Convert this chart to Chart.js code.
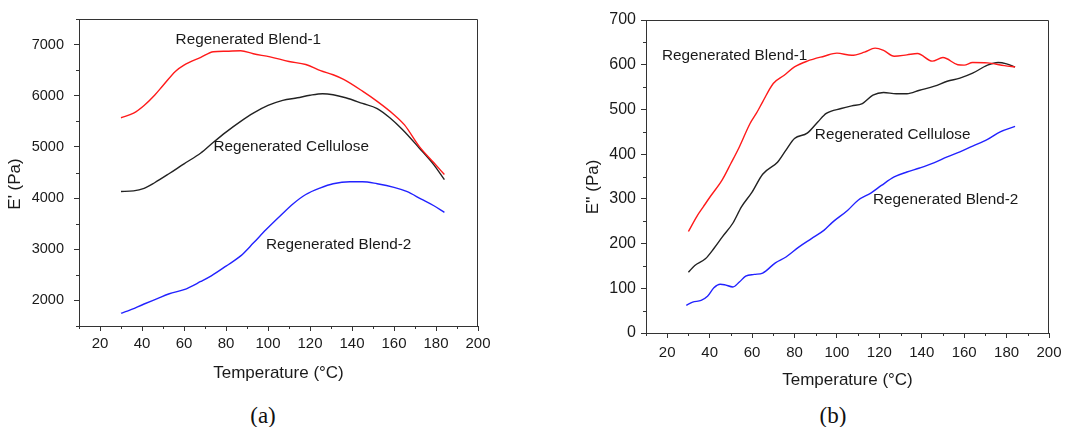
<!DOCTYPE html>
<html>
<head>
<meta charset="utf-8">
<script src="https://cdn.jsdelivr.net/npm/chart.js@4/dist/chart.umd.min.js"></script>
<style>
  html, body { margin:0; padding:0; background:#fff; }
  body { width:1084px; height:427px; position:relative; overflow:hidden; }
  canvas { position:absolute; top:0; }
  .cap { position:absolute; font-family:"Liberation Serif","Times New Roman",serif; font-size:23px; color:#111; transform:translate(-50%,-50%); }
</style>
</head>
<body>
<canvas id="ca" width="500" height="400" style="left:0px"></canvas>
<canvas id="cb" width="544" height="400" style="left:540px"></canvas>
<div class="cap" style="left:263px; top:416px;">(a)</div>
<div class="cap" style="left:833px; top:416px;">(b)</div>
<script>
// ---------- Panel (a): storage modulus E' ----------
const aBlend1T = [30,36,41,46,50,56,60,68,74,80,87,93,101,110,118,125,131,136,145,152,160,165,172,179,184];
const aBlend1V = [5570,5660,5810,6010,6200,6480,6600,6750,6860,6870,6880,6820,6760,6670,6610,6490,6410,6320,6090,5890,5630,5430,5010,4690,4460];
const aCellT = [30,36,41,46,53,60,68,74,80,87,93,100,107,114,120,126,131,137,145,152,158,164,172,179,184];
const aCellV = [4130,4140,4190,4300,4480,4670,4880,5090,5290,5500,5660,5810,5910,5960,6010,6040,6020,5960,5850,5750,5570,5340,4980,4650,4360];
const aBlend2T = [30,33,41,47,53,60,68,73,80,87,93,99,106,112,118,125,131,139,145,152,160,166,173,179,184];
const aBlend2V = [1750,1790,1930,2030,2130,2210,2370,2480,2670,2870,3120,3380,3660,3890,4070,4200,4280,4320,4320,4280,4210,4130,3980,3850,3720];

// ---------- Panel (b): loss modulus E'' ----------
const bBlend1T = [30,34,37,40,46,50,54,59,62,65,70,75,80,86,94,100,107,113,118,122,127,133,138,145,150,157,160,164,171,179,184];
const bBlend1V = [227,261,282,303,343,379,416,468,491,517,558,576,595,608,619,626,621,628,637,632,619,622,625,608,616,600,599,605,604,598,595];
const bCellT = [30,33,38,42,46,51,55,60,65,72,76,80,86,91,95,102,107,112,117,122,128,133,139,146,152,158,164,171,176,180,184];
const bCellV = [136,151,166,189,215,246,282,315,355,382,409,435,447,472,491,502,508,513,532,538,535,535,543,552,563,570,581,599,605,602,595];
const bBlend2T = [29,32,36,39,42,45,47,51,54,57,61,65,71,76,82,88,94,98,105,110,116,121,127,133,139,146,152,158,164,171,177,184];
const bBlend2V = [62,69,73,82,101,109,108,103,114,127,131,134,157,170,192,211,230,248,274,297,313,330,349,360,369,381,394,405,418,433,450,462];

// ---------- Ticks ----------
const xTicks = [20,40,60,80,100,120,140,160,180,200];
const xMinor = [10,30,50,70,90,110,130,150,170,190];
const aYTicks = [2000,3000,4000,5000,6000,7000];
const aYMinor = [1500,2500,3500,4500,5500,6500,7500];
const bYTicks = [0,100,200,300,400,500,600,700];
const bYMinor = [50,150,250,350,450,550,650];

// ---------- Series names / annotation anchors (data coords) ----------
const names = ['Regenerated Blend-1','Regenerated Cellulose','Regenerated Blend-2'];
const aLabelT = [56, 74, 99];
const aLabelV = [7100, 5010, 3090];
const bLabelT = [17.5, 89.6, 117];
const bLabelV = [621, 444, 297];

const colors = ['#ff1a1a', '#222222', '#2222ff'];
const FONT = '"Liberation Sans", Arial, sans-serif';
const TXT = '#1a1a1a';

function pts(T, V){ return T.map((t,i)=>({x:t, y:V[i]})); }

const deco = {
  id:'deco',
  afterDraw(chart, args, o){
    const {ctx, chartArea:a, scales:{x, y}} = chart;
    ctx.save();
    ctx.strokeStyle = '#333';
    ctx.lineWidth = 1;
    ctx.beginPath();
    ctx.moveTo(Math.round(a.left)+0.5, Math.round(a.top)+0.5);
    ctx.lineTo(Math.round(a.right)-0.5, Math.round(a.top)+0.5);
    ctx.lineTo(Math.round(a.right)-0.5, Math.round(a.bottom));
    ctx.stroke();
    ctx.beginPath();
    o.xMinor.forEach(v=>{
      const px = Math.round(x.getPixelForValue(v))+0.5;
      ctx.moveTo(px, a.bottom); ctx.lineTo(px, a.bottom+3);
    });
    o.yMinor.forEach(v=>{
      const py = Math.round(y.getPixelForValue(v))+0.5;
      ctx.moveTo(a.left, py); ctx.lineTo(a.left-3, py);
    });
    ctx.stroke();
    ctx.fillStyle = TXT;
    ctx.font = '15.3px ' + FONT;
    ctx.textAlign = 'left';
    ctx.textBaseline = 'middle';
    o.labelT.forEach((t,i)=>{
      ctx.fillText(names[i], x.getPixelForValue(t), y.getPixelForValue(o.labelV[i]));
    });
    ctx.font = '17px ' + FONT;
    ctx.textAlign = 'center';
    ctx.fillText('Temperature (°C)', (a.left+a.right)/2, o.xTitleY);
    ctx.translate(o.yTitleX, o.yTitleY);
    ctx.rotate(-Math.PI/2);
    ctx.font = '17px ' + FONT;
    ctx.fillText(o.yTitle, 0, 0);
    ctx.restore();
  }
};

function makeChart(id, sets, yMin, yMax, yTicks, yW, xH, pad, yFont, xFont, yPad, xPad, decoOpts){
  return new Chart(document.getElementById(id), {
    type:'line',
    data:{ datasets: sets.map((s,i)=>({
      label:names[i], data:pts(s[0], s[1]), borderColor:colors[i], borderWidth:1.4,
      pointRadius:0, tension:0.4, cubicInterpolationMode:'monotone', fill:false
    }))},
    options:{
      responsive:false, animation:false, devicePixelRatio:1,
      layout:{ padding:pad },
      plugins:{ legend:{display:false}, tooltip:{enabled:false}, deco:decoOpts },
      scales:{
        x:{
          type:'linear', min:10, max:200,
          afterBuildTicks:s=>{ s.ticks = xTicks.map(v=>({value:v})); },
          afterFit:s=>{ s.height = xH; },
          grid:{ drawOnChartArea:false, drawTicks:true, tickLength:5, color:'#333' },
          border:{ display:true, color:'#333', width:1 },
          ticks:{ color:TXT, font:{family:FONT, size:xFont}, padding:xPad, maxRotation:0, autoSkip:false, callback:v=>String(v) }
        },
        y:{
          type:'linear', min:yMin, max:yMax,
          afterBuildTicks:s=>{ s.ticks = yTicks.map(v=>({value:v})); },
          afterFit:s=>{ s.width = yW; },
          grid:{ drawOnChartArea:false, drawTicks:true, tickLength:5, color:'#333' },
          border:{ display:true, color:'#333', width:1 },
          ticks:{ color:TXT, font:{family:FONT, size:yFont}, padding:yPad, autoSkip:false, callback:v=>String(v) }
        }
      }
    },
    plugins:[deco]
  });
}

makeChart('ca',
  [[aBlend1T,aBlend1V],[aCellT,aCellV],[aBlend2T,aBlend2V]],
  1500, 7500, aYTicks, 79, 74, {top:19, right:22, left:0, bottom:0}, 14.5, 15, 10, 4,
  { xMinor:xMinor, yMinor:aYMinor, labelT:aLabelT, labelV:aLabelV, yTitle:"E' (Pa)", xTitleY:373, yTitleX:15, yTitleY:184 });

makeChart('cb',
  [[bBlend1T,bBlend1V],[bCellT,bCellV],[bBlend2T,bBlend2V]],
  0, 700, bYTicks, 106, 67, {top:20, right:35, left:0, bottom:0}, 16, 15, 5, 6,
  { xMinor:xMinor, yMinor:bYMinor, labelT:bLabelT, labelV:bLabelV, yTitle:"E'' (Pa)", xTitleY:380, yTitleX:53, yTitleY:187 });
</script>
</body>
</html>
